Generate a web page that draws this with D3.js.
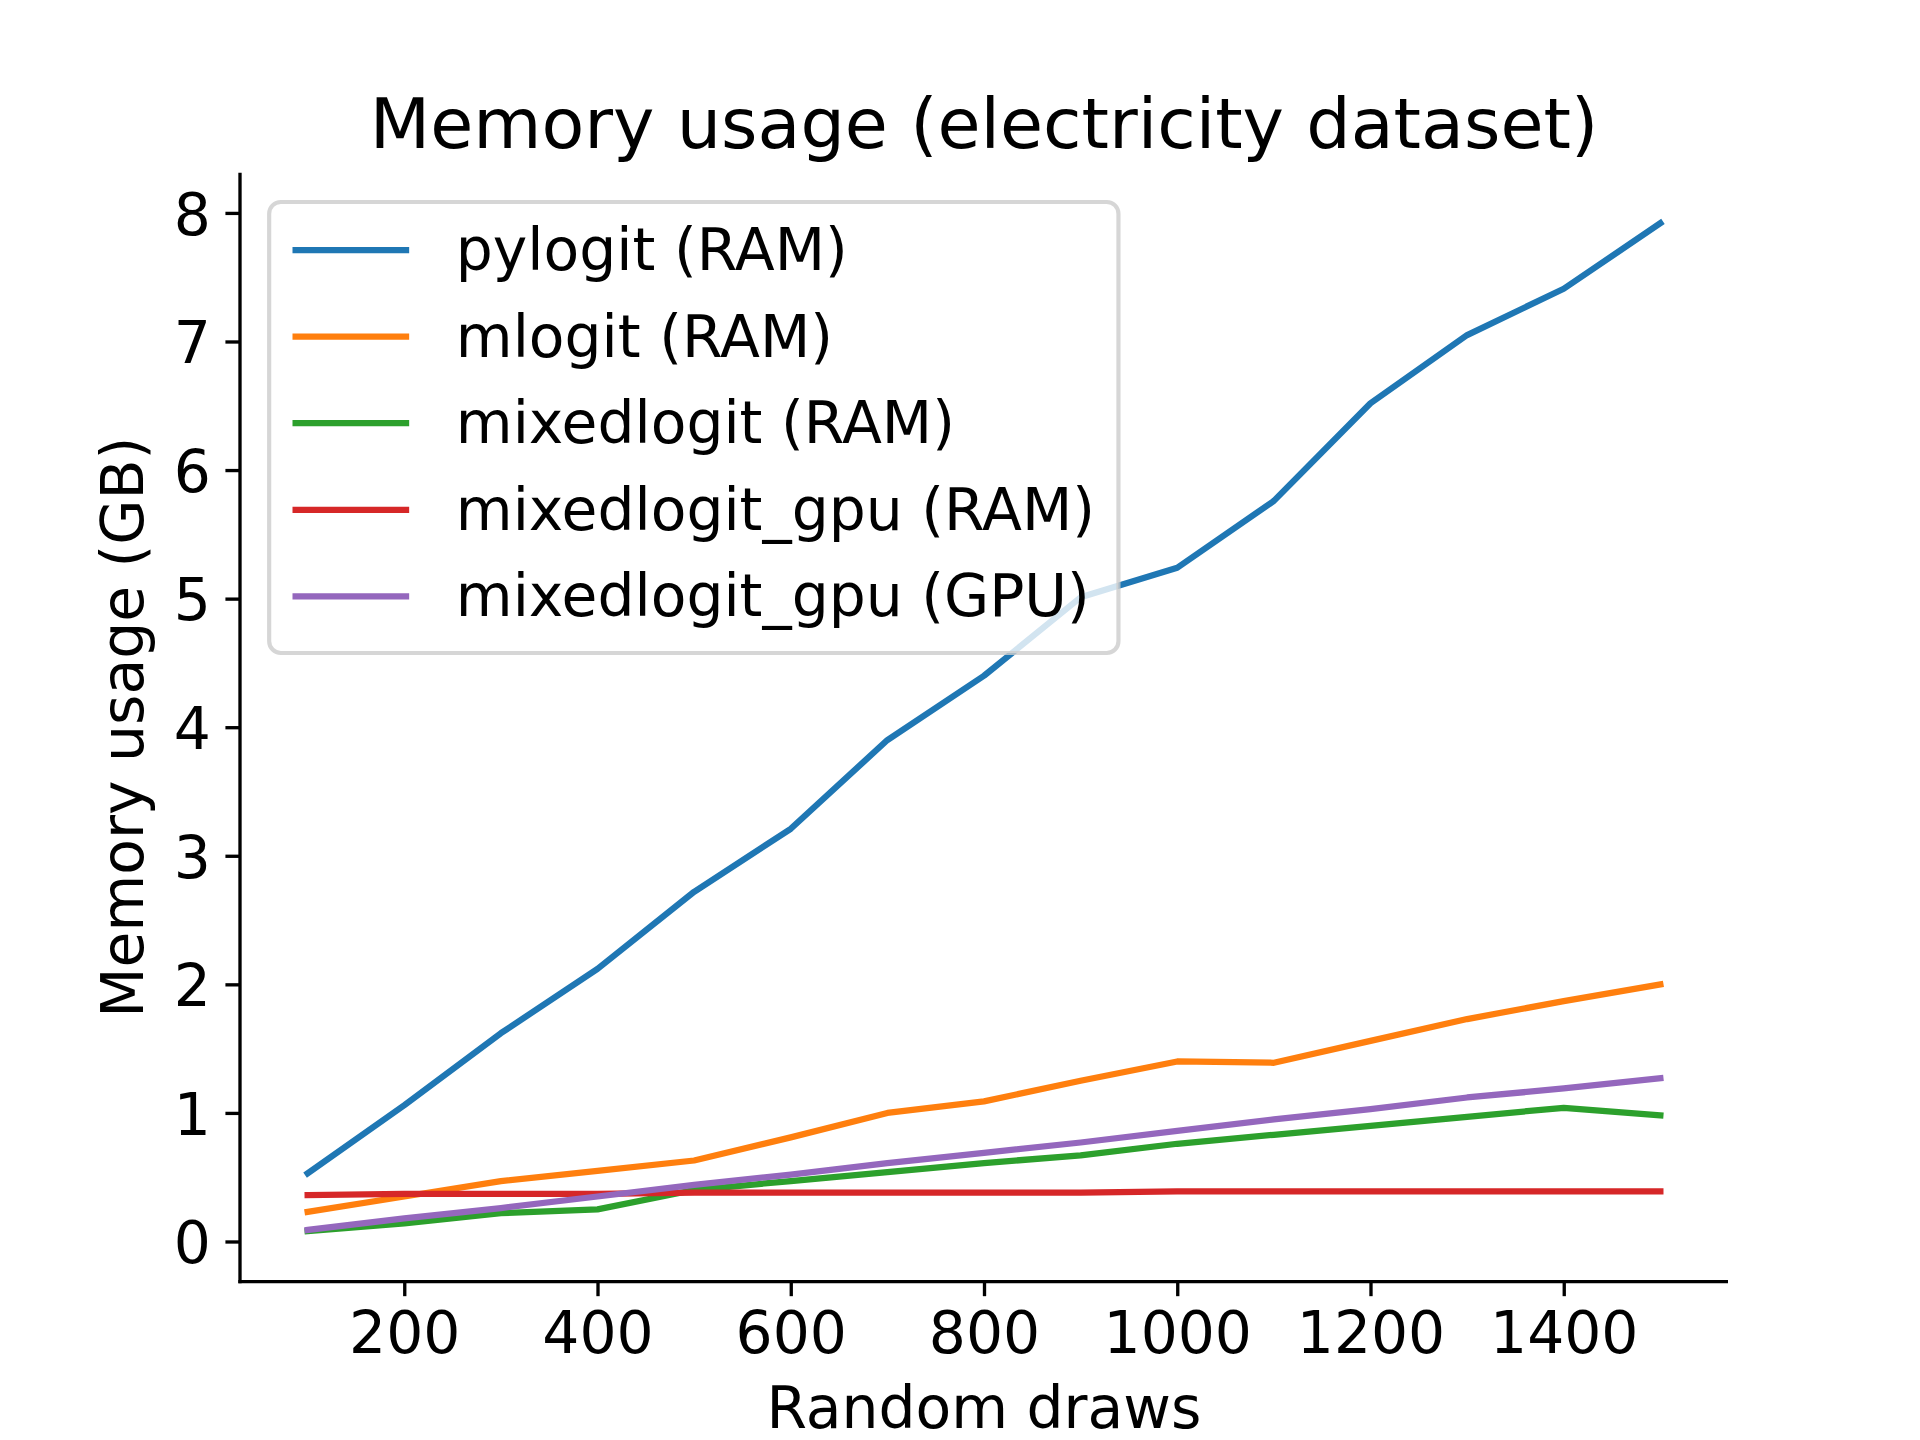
<!DOCTYPE html>
<html>
<head>
<meta charset="utf-8">
<script src="https://cdn.jsdelivr.net/npm/d3@7"></script>
<style>
  html, body { margin: 0; padding: 0; background: #fff; }
  svg { display: block; font-family: "DejaVu Sans", sans-serif; }
</style>
</head>
<body>
<svg id="chart" width="1920" height="1440"></svg>
<script>
// ---- data ----
const draws = [100, 200, 300, 400, 500, 600, 700, 800, 900, 1000, 1100, 1200, 1300, 1400, 1500];
const pylogitRAM      = [0.53, 1.06, 1.62, 2.12, 2.72, 3.21, 3.90, 4.40, 5.01, 5.24, 5.76, 6.52, 7.05, 7.41, 7.92];
const mlogitRAM       = [0.23, 0.35, 0.47, 0.55, 0.63, 0.81, 1.00, 1.09, 1.25, 1.40, 1.39, 1.56, 1.73, 1.87, 2.00];
const mixedlogitRAM   = [0.08, 0.14, 0.22, 0.25, 0.40, 0.47, 0.54, 0.61, 0.67, 0.76, 0.83, 0.90, 0.97, 1.04, 0.98];
const mixedlogitGpuRAM= [0.36, 0.37, 0.37, 0.37, 0.38, 0.38, 0.38, 0.38, 0.38, 0.39, 0.39, 0.39, 0.39, 0.39, 0.39];
const mixedlogitGpuGPU= [0.09, 0.18, 0.26, 0.35, 0.44, 0.52, 0.61, 0.69, 0.77, 0.86, 0.95, 1.03, 1.12, 1.19, 1.27];
const seriesNames = ["pylogit (RAM)", "mlogit (RAM)", "mixedlogit (RAM)", "mixedlogit_gpu (RAM)", "mixedlogit_gpu (GPU)"];
const seriesColors = ["#1f77b4", "#ff7f0e", "#2ca02c", "#d62728", "#9467bd"];
const xTicks = [200, 400, 600, 800, 1000, 1200, 1400];
const yTicks = [0, 1, 2, 3, 4, 5, 6, 7, 8];
const titleText = "Memory usage (electricity dataset)";
const xLabelText = "Random draws";
const yLabelText = "Memory usage (GB)";

const allSeries = [pylogitRAM, mlogitRAM, mixedlogitRAM, mixedlogitGpuRAM, mixedlogitGpuGPU];

// ---- layout (matplotlib-like, 300dpi, 6.4x4.8in) ----
const W = 1920, H = 1440;
const pLeft = 240, pRight = 1728, pTop = 172.8, pBottom = 1281.6;
const pt = 300 / 72;
const fs = 14 * pt;          // 58.33px
const titleFs = 16.8 * pt;   // 70px
const lw = 1.5 * pt;         // line width
const spineW = 0.8 * pt;
const tickLen = 3.5 * pt, tickPad = 3.5 * pt;

const svg = d3.select("#chart");

function padDomain(ext) {
  const r = ext[1] - ext[0];
  return [ext[0] - 0.05 * r, ext[1] + 0.05 * r];
}
const xDom = padDomain(d3.extent(draws));
const yDom = padDomain([d3.min(allSeries, s => d3.min(s)), d3.max(allSeries, s => d3.max(s))]);

const x = d3.scaleLinear().domain(xDom).range([pLeft, pRight]);
const y = d3.scaleLinear().domain(yDom).range([pBottom, pTop]);

// ---- lines ----
const line = d3.line().x((d, i) => x(draws[i])).y(d => y(d));
const plot = svg.append("g");
allSeries.forEach((s, k) => {
  plot.append("path")
    .datum(s)
    .attr("d", line)
    .attr("fill", "none")
    .attr("stroke", seriesColors[k])
    .attr("stroke-width", lw)
    .attr("stroke-linejoin", "round")
    .attr("stroke-linecap", "square");
});

// ---- axes ----
const xAxis = d3.axisBottom(x).tickValues(xTicks).tickSize(tickLen).tickPadding(tickPad).tickFormat(d3.format("d"));
const yAxis = d3.axisLeft(y).tickValues(yTicks).tickSize(tickLen).tickPadding(tickPad).tickFormat(d3.format("d"));

const gx = svg.append("g").attr("transform", `translate(0,${pBottom})`).call(xAxis);
const gy = svg.append("g").attr("transform", `translate(${pLeft},0)`).call(yAxis);

[gx, gy].forEach(g => {
  g.select(".domain").remove();
  g.selectAll(".tick line").attr("stroke", "#000").attr("stroke-width", spineW);
  g.selectAll(".tick text")
    .attr("fill", "#000")
    .style("font-family", "'DejaVu Sans', sans-serif")
    .style("font-size", fs + "px");
});
gx.selectAll(".tick text").attr("dy", null).attr("y", tickLen + tickPad + 0.729 * fs);
gy.selectAll(".tick text").attr("dy", null).attr("y", 0.729 * fs / 2);

// spines (left & bottom)
svg.append("line").attr("x1", pLeft).attr("x2", pLeft).attr("y1", pTop).attr("y2", pBottom + spineW / 2)
  .attr("stroke", "#000").attr("stroke-width", spineW).attr("stroke-linecap", "butt");
svg.append("line").attr("x1", pLeft - spineW / 2).attr("x2", pRight).attr("y1", pBottom).attr("y2", pBottom)
  .attr("stroke", "#000").attr("stroke-width", spineW).attr("stroke-linecap", "butt");

// ---- labels ----
svg.append("text").attr("x", (pLeft + pRight) / 2).attr("y", 148)
  .attr("text-anchor", "middle").style("font-size", titleFs + "px").text(titleText);
svg.append("text").attr("x", (pLeft + pRight) / 2).attr("y", 1428)
  .attr("text-anchor", "middle").style("font-size", fs + "px").text(xLabelText);
svg.append("text")
  .attr("transform", `translate(143,${(pTop + pBottom) / 2}) rotate(-90)`)
  .attr("text-anchor", "middle").style("font-size", fs + "px").text(yLabelText);

// ---- legend ----
const lgX = pLeft + 0.5 * fs, lgY = pTop + 0.5 * fs;
const borderPad = 0.4 * fs, handleLen = 2.0 * fs, handlePad = 0.8 * fs;
const rowH = 86.6;
const legend = svg.append("g");
const frame = legend.append("rect")
  .attr("x", lgX).attr("y", lgY)
  .attr("rx", 0.2 * fs).attr("ry", 0.2 * fs)
  .attr("fill", "#fff").attr("fill-opacity", 0.8)
  .attr("stroke", "#cccccc").attr("stroke-opacity", 0.8)
  .attr("stroke-width", 1.0 * pt);
const rows = legend.selectAll("g.row").data(seriesNames).enter().append("g").attr("class", "row");
const firstLineY = 250;
rows.append("line")
  .attr("x1", lgX + borderPad).attr("x2", lgX + borderPad + handleLen)
  .attr("y1", (d, i) => firstLineY + i * rowH).attr("y2", (d, i) => firstLineY + i * rowH)
  .attr("stroke", (d, i) => seriesColors[i]).attr("stroke-width", lw).attr("stroke-linecap", "butt");
const texts = rows.append("text")
  .attr("x", lgX + borderPad + handleLen + handlePad)
  .attr("y", (d, i) => firstLineY + i * rowH + 20)
  .style("font-size", fs + "px")
  .text(d => d);
let maxW = 0;
texts.each(function () { maxW = Math.max(maxW, this.getComputedTextLength()); });
frame.attr("width", borderPad + handleLen + handlePad + maxW + borderPad)
     .attr("height", 653 - lgY);
</script>
</body>
</html>
